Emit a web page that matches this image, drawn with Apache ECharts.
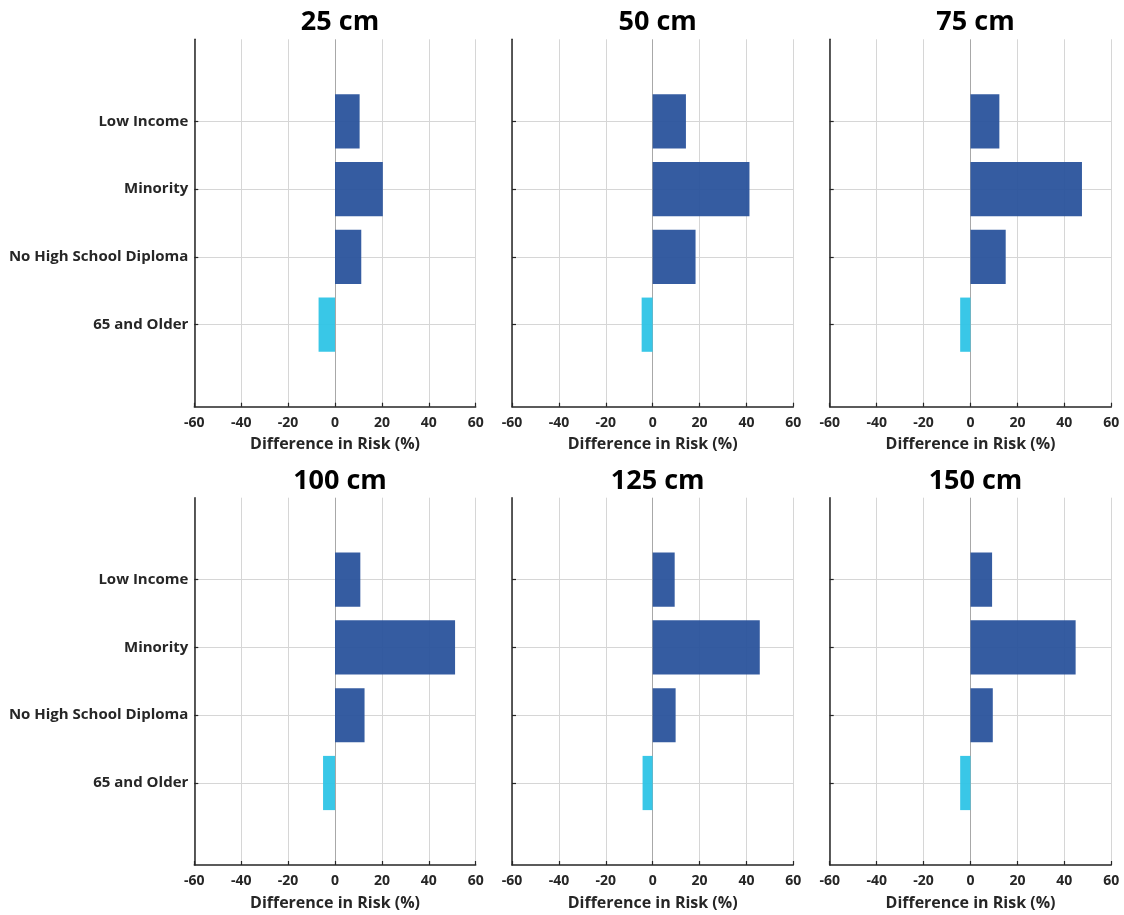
<!DOCTYPE html>
<html>
<head>
<meta charset="utf-8">
<title>Difference in Risk by Flood Depth</title>
<script src="https://cdn.jsdelivr.net/npm/echarts@6/dist/echarts.min.js"></script>
<style>
  html, body { margin: 0; padding: 0; background: #ffffff; }
  #chart { width: 1124px; height: 915px; }
</style>
</head>
<body>
<div id="chart"></div>
<script>
// Groups compared in every panel, top to bottom
const categories = ['Low Income', 'Minority', 'No High School Diploma', '65 and Older'];

// Flood depth of each panel
const depths = ['25 cm', '50 cm', '75 cm', '100 cm', '125 cm', '150 cm'];

// Difference in risk (%) for each group, one array per depth
const risk25 = [10.5, 20.4, 11.2, -7.0];
const risk50 = [14.2, 41.3, 18.3, -4.7];
const risk75 = [12.3, 47.5, 15.0, -4.4];
const risk100 = [10.8, 51.2, 12.6, -5.1];
const risk125 = [9.4, 45.7, 9.8, -4.3];
const risk150 = [9.2, 44.8, 9.5, -4.4];
const riskByDepth = [risk25, risk50, risk75, risk100, risk125, risk150];

// Horizontal axis ticks
const xTicks = [-60, -40, -20, 0, 20, 40, 60];

const FONT = '"Open Sans", "Noto Sans", sans-serif';
const TEXT = '#262626';
const BAR_BLUE = '#2a539c';
const BAR_CYAN = '#2ec4e6';
const groupColors = [BAR_BLUE, BAR_BLUE, BAR_BLUE, BAR_CYAN];

// Panel frames in pixels
const colLeft = [194.3, 512, 829.7];
const colRight = [648.3, 330.7, 12.7];
const rowTop = [39.3, 497.7];
const rowBottom = [508.3, 50];
const colCenter = [335, 652.7, 970.5];
const titleTop = [4, 463];

const rowPositions = categories.map((c, i) => i + 1);

const grids = [], xAxes = [], yAxes = [], series = [], titles = [];

depths.forEach((depth, p) => {
  const r = Math.floor(p / 3), c = p % 3;
  grids.push({
    left: colLeft[c], right: colRight[c], top: rowTop[r], bottom: rowBottom[r],
    containLabel: false
  });
  titles.push({
    text: depth,
    left: colCenter[c], top: titleTop[r], textAlign: 'center',
    textStyle: { fontFamily: FONT, fontWeight: 'bold', fontSize: 27, color: '#000' }
  });
  xAxes.push({
    type: 'value', gridIndex: p,
    min: -60, max: 60, interval: 20,
    name: 'Difference in Risk (%)', nameLocation: 'middle', nameGap: 30,
    nameTextStyle: { fontFamily: FONT, fontWeight: 'bold', fontSize: 16, color: TEXT },
    axisLine: { show: true, onZero: false, lineStyle: { color: TEXT, width: 1.5 } },
    axisTick: { show: true, inside: true, length: 4, lineStyle: { color: TEXT, width: 1.2 } },
    axisLabel: { margin: 9, fontFamily: FONT, fontWeight: 'bold', fontSize: 14, color: TEXT },
    splitLine: {
      show: true,
      lineStyle: { color: xTicks.map(v => v === 0 ? '#a8a8a8' : '#d6d6d6'), width: 1 }
    }
  });
  yAxes.push({
    type: 'value', gridIndex: p, inverse: true,
    min: -0.21, max: 5.21,
    axisLine: { show: true, onZero: false, lineStyle: { color: TEXT, width: 1.5 } },
    axisTick: {
      show: true, inside: true, length: 4, customValues: rowPositions,
      lineStyle: { color: TEXT, width: 1.2 }
    },
    axisLabel: {
      show: c === 0, customValues: rowPositions, margin: 6,
      fontFamily: FONT, fontWeight: 'bold', fontSize: 15, color: TEXT,
      formatter: v => categories[Math.round(v) - 1] || ''
    },
    splitLine: { show: true, lineStyle: { color: '#d6d6d6', width: 1 } }
  });
  series.push({
    type: 'custom', xAxisIndex: p, yAxisIndex: p,
    data: riskByDepth[p].map((v, i) => [v, rowPositions[i], i]),
    encode: { x: 0, y: 1 },
    renderItem: (params, api) => {
      const v = api.value(0), y = api.value(1), g = api.value(2);
      const p0 = api.coord([0, y]);
      const p1 = api.coord([v, y]);
      const h = api.size([0, 0.8])[1];
      return {
        type: 'rect',
        shape: { x: Math.min(p0[0], p1[0]), y: p0[1] - h / 2, width: Math.abs(p1[0] - p0[0]), height: h },
        style: { fill: groupColors[g], opacity: 0.95 }
      };
    }
  });
});

const chart = echarts.init(document.getElementById('chart'), null, { renderer: 'canvas' });
chart.setOption({
  backgroundColor: '#ffffff',
  animation: false,
  title: titles,
  grid: grids,
  xAxis: xAxes,
  yAxis: yAxes,
  series: series
});
</script>
</body>
</html>
